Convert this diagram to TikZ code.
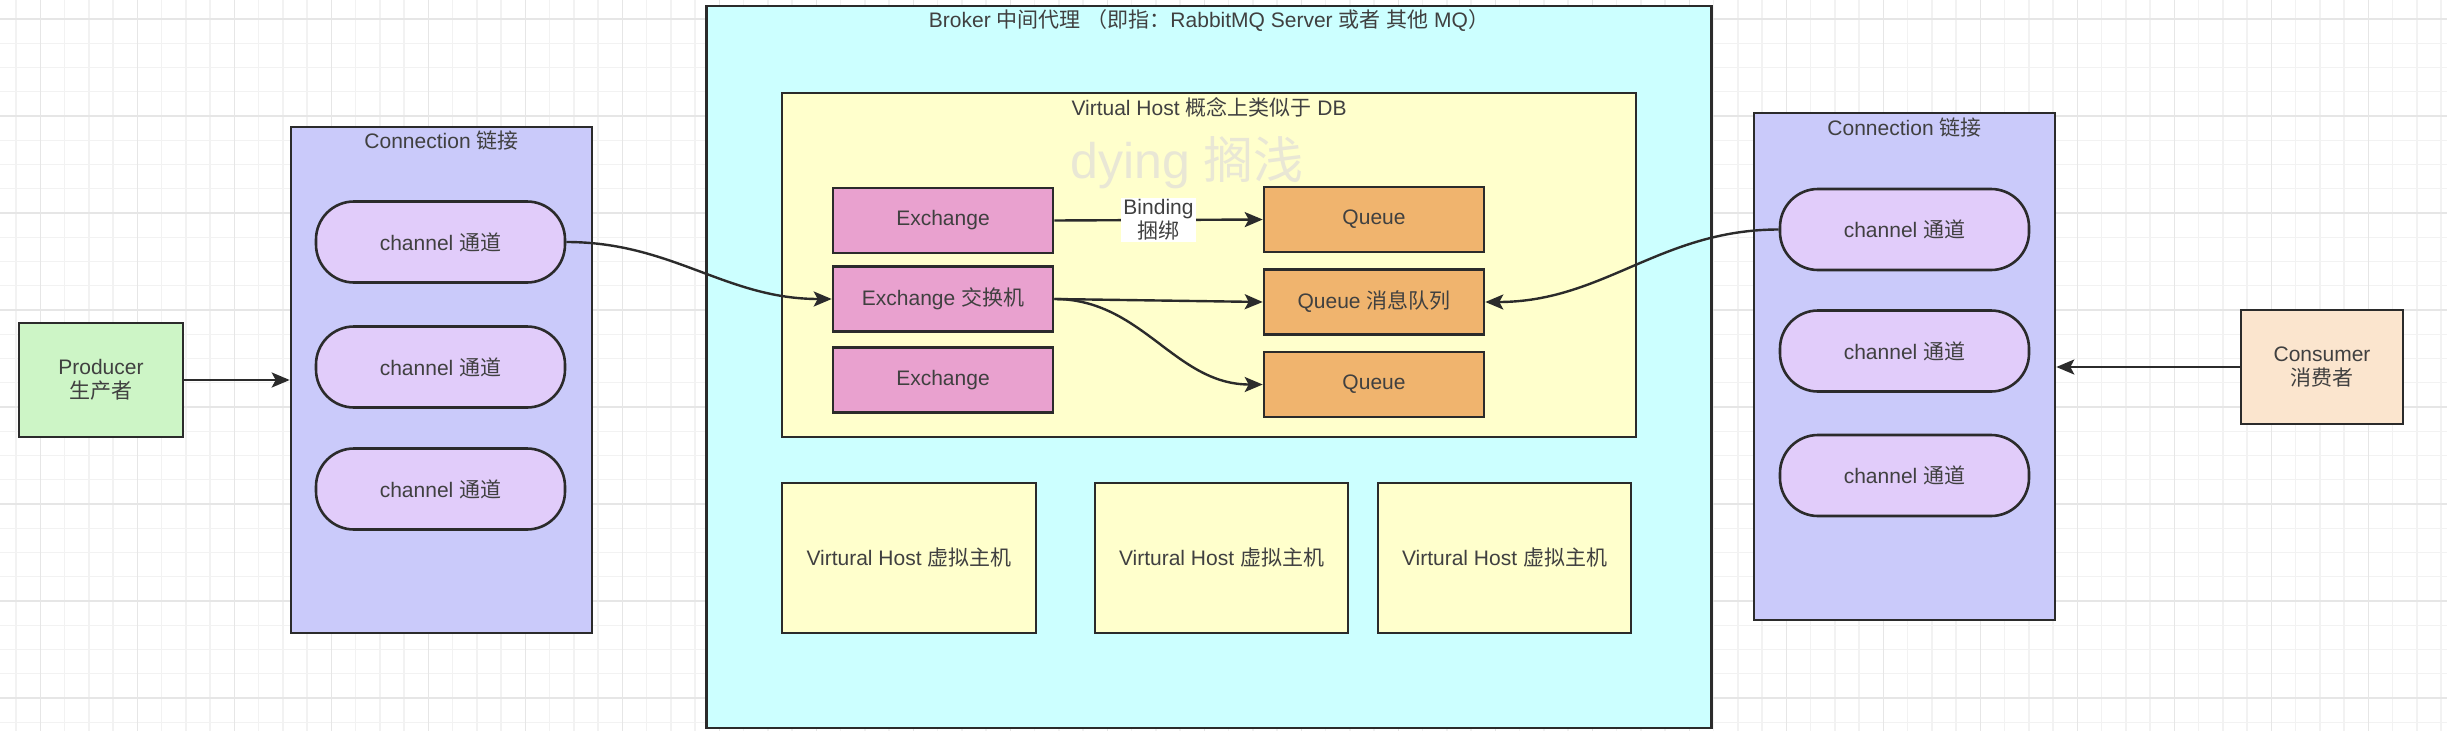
\documentclass[tikz,border=0pt]{standalone}
\usepackage{fontspec}
\setmainfont{Liberation Sans}
\newfontfamily\cjk{Noto Sans CJK SC}
\usetikzlibrary{arrows.meta}
\definecolor{bord}{HTML}{2B2B2B}
\definecolor{txt}{HTML}{404040}
\definecolor{gridminor}{HTML}{F2F2F2}
\definecolor{gridmajor}{HTML}{E6E6E6}
\definecolor{prodfill}{HTML}{CDF5C6}
\definecolor{connfill}{HTML}{CACAFA}
\definecolor{chfill}{HTML}{E1CCFA}
\definecolor{brokerfill}{HTML}{CCFFFF}
\definecolor{vhfill}{HTML}{FFFFCC}
\definecolor{exfill}{HTML}{E9A1CF}
\definecolor{qfill}{HTML}{F0B46E}
\definecolor{consfill}{HTML}{FBE5CE}
\definecolor{wmark}{HTML}{E9E7D5}
\newcommand\fs{\fontsize{21}{24}\selectfont}
\tikzset{
  box/.style={draw=bord, line width=2.6pt, inner sep=0pt, align=center, text=txt, font=\fs},
  chbox/.style={box, fill=chfill, minimum width=249pt, minimum height=81pt, rounded corners=38pt},
  exbox/.style={box, fill=exfill, minimum width=220pt, minimum height=65pt},
  qbox/.style={box, fill=qfill, minimum width=220pt, minimum height=65pt},
  vhbox/.style={box, fill=vhfill, minimum width=253pt, minimum height=150pt},
  title/.style={inner sep=0pt, text=txt, font=\fs},
  conn/.style={draw=bord, line width=2.4pt, -{Stealth[length=18pt,width=15pt,inset=4pt]}},
}
\begin{document}
\begin{tikzpicture}[x=1pt,y=-1pt]
\useasboundingbox (0,0) rectangle (2447,731);
\fill[white] (0,0) rectangle (2447,731);
% grid
\foreach \i in {0,...,100} \draw[gridminor, line width=1.4pt] ({16.05+24.25*\i},0) -- ++(0,731);
\foreach \i in {0,...,30} \draw[gridminor, line width=1.4pt] (0,{19+24.25*\i}) -- ++(2447,0);
\foreach \i in {0,...,25} \draw[gridmajor, line width=1.6pt] ({40.3+97*\i},0) -- ++(0,731);
\foreach \i in {0,...,7} \draw[gridmajor, line width=1.6pt] (0,{19+97*\i}) -- ++(2447,0);

% producer
\node[box, fill=prodfill, minimum width=164pt, minimum height=114pt] (prod) at (101,380) {Producer\\{\cjk 生产者}};

% left connection
\node[box, fill=connfill, minimum width=301pt, minimum height=506pt] (connL) at (441.5,380) {};
\node[title] (connLt) at (441.5,141) {Connection {\cjk 链接}};
\node[chbox] (chL1) at (440.5,242) {channel {\cjk 通道}};
\node[chbox] (chL2) at (440.5,367) {channel {\cjk 通道}};
\node[chbox] (chL3) at (440.5,489) {channel {\cjk 通道}};

% broker
\node[box, fill=brokerfill, minimum width=1005pt, minimum height=722pt] (broker) at (1209,366.8) {};
\node[title] (brokert) at (1209,20) {Broker {\cjk 中间代理} {\cjk （即指：}RabbitMQ Server {\cjk 或者} {\cjk 其他} MQ{\cjk ）}};

% main virtual host
\node[box, fill=vhfill, minimum width=854pt, minimum height=344pt] (vh) at (1209,265) {};
\node[title] (vht) at (1209,107) {Virtual Host {\cjk 概念上类似于} DB};
\node[inner sep=0pt, anchor=base, text=wmark, font=\fontsize{50}{54}\selectfont] (wm) at (1187,178) {dying {\cjk 搁浅}};

\node[exbox] (ex1) at (943,220.5) {Exchange};
\node[exbox] (ex2) at (943,299) {Exchange {\cjk 交换机}};
\node[exbox] (ex3) at (943,380) {Exchange};
\node[qbox] (q1) at (1374,219.5) {Queue};
\node[qbox] (q2) at (1374,302) {Queue {\cjk 消息队列}};
\node[qbox] (q3) at (1374,384.5) {Queue};

% other virtual hosts
\node[vhbox, minimum width=254pt] (vh1) at (909,558) {Virtural Host {\cjk 虚拟主机}};
\node[vhbox] (vh2) at (1221.5,558) {Virtural Host {\cjk 虚拟主机}};
\node[vhbox] (vh3) at (1504.5,558) {Virtural Host {\cjk 虚拟主机}};

% right connection
\node[box, fill=connfill, minimum width=301pt, minimum height=507pt] (connR) at (1904.5,366.5) {};
\node[title] (connRt) at (1904.5,128) {Connection {\cjk 链接}};
\node[chbox] (chR1) at (1904.5,229.5) {channel {\cjk 通道}};
\node[chbox] (chR2) at (1904.5,351) {channel {\cjk 通道}};
\node[chbox] (chR3) at (1904.5,475.5) {channel {\cjk 通道}};

% consumer
\node[box, fill=consfill, minimum width=162pt, minimum height=114pt] (cons) at (2322,367) {Consumer\\{\cjk 消费者}};

% connectors
\draw[conn] (prod.east) -- (prod.east -| connL.west);
\draw[conn] (cons.west) -- (cons.west -| connR.east);
\draw[conn] (chL1.east) to[out=0,in=180] (ex2.west);
\draw[conn] (chR1.west) to[out=180,in=0] (q2.east);
\draw[conn] (ex1.east) -- node[fill=white, inner sep=2pt, text=txt, font=\fs, align=center] (bind) {Binding\\{\cjk 捆绑}} (q1.west);
\draw[conn] (ex2.east) -- (q2.west);
\draw[conn] (ex2.east) to[out=0,in=180] (q3.west);
\end{tikzpicture}
\end{document}
